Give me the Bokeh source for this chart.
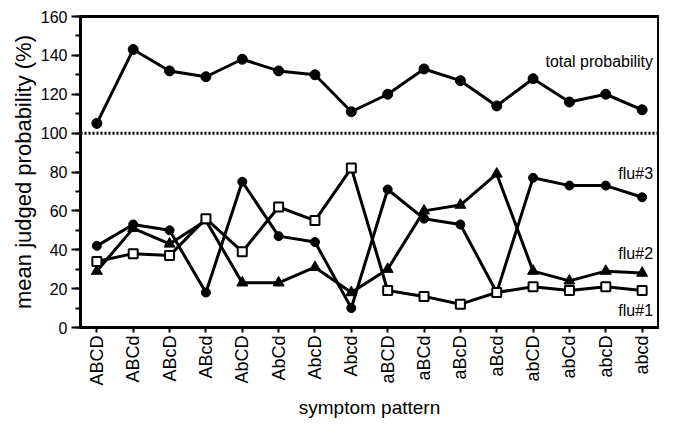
import math
from bokeh.plotting import figure
from bokeh.models import Range1d, FixedTicker, SingleIntervalTicker, Span, Label, ColumnDataSource
from bokeh.embed import file_html
from bokeh.resources import INLINE

patterns = ["ABCD", "ABCd", "ABcD", "ABcd", "AbCD", "AbCd", "AbcD", "Abcd",
            "aBCD", "aBCd", "aBcD", "aBcd", "abCD", "abCd", "abcD", "abcd"]
total_prob = [105, 143, 132, 129, 138, 132, 130, 111, 120, 133, 127, 114, 128, 116, 120, 112]
flu1 = [34, 38, 37, 56, 39, 62, 55, 82, 19, 16, 12, 18, 21, 19, 21, 19]
flu2 = [29, 51, 43, 55, 23, 23, 31, 18, 30, 60, 63, 79, 29, 24, 29, 28]
flu3 = [42, 53, 50, 18, 75, 47, 44, 10, 71, 56, 53, 18, 77, 73, 73, 67]
reference_level = 100

FONT = "Liberation Sans"

idx = list(range(len(patterns)))
src = ColumnDataSource(dict(x=idx, total=total_prob, f1=flu1, f2=flu2, f3=flu3))

p = figure(width=659, height=420, output_backend="svg", toolbar_location=None,
           x_range=Range1d(-0.45, 15.45), y_range=Range1d(0, 160),
           min_border_left=80, min_border_right=1, min_border_top=16, min_border_bottom=90)

p.xgrid.visible = False
p.ygrid.visible = False
p.outline_line_color = "black"
p.outline_line_width = 3
p.background_fill_color = "white"
p.border_fill_color = "white"

# y axis
p.yaxis.ticker = SingleIntervalTicker(interval=20, num_minor_ticks=2)
p.yaxis.axis_line_width = 3
p.yaxis.major_tick_out = 9
p.yaxis.major_tick_in = 0
p.yaxis.minor_tick_out = 5
p.yaxis.minor_tick_in = 0
p.yaxis.major_tick_line_width = 2
p.yaxis.minor_tick_line_width = 2
p.yaxis.major_label_text_font = FONT
p.yaxis.major_label_text_font_size = "16px"
p.yaxis.major_label_text_color = "black"
p.yaxis.major_label_standoff = 4
p.yaxis.axis_label = "mean judged probability (%)"
p.yaxis.axis_label_text_font = FONT
p.yaxis.axis_label_text_font_size = "22px"
p.yaxis.axis_label_text_font_style = "normal"
p.yaxis.axis_label_text_color = "black"
p.yaxis.axis_label_standoff = 2

# x axis
p.xaxis.ticker = FixedTicker(ticks=idx)
p.xaxis.major_label_overrides = {i: lab for i, lab in enumerate(patterns)}
p.xaxis.major_label_orientation = math.pi / 2
p.xaxis.axis_line_width = 3
p.xaxis.major_tick_out = 5
p.xaxis.major_tick_in = 0
p.xaxis.major_tick_line_width = 2
p.xaxis.minor_tick_out = 0
p.xaxis.minor_tick_in = 0
p.xaxis.major_label_text_font = FONT
p.xaxis.major_label_text_font_size = "18px"
p.xaxis.major_label_text_color = "black"
p.xaxis.major_label_standoff = 3
p.xaxis.axis_label = "symptom pattern"
p.xaxis.axis_label_text_font = FONT
p.xaxis.axis_label_text_font_size = "19px"
p.xaxis.axis_label_text_font_style = "normal"
p.xaxis.axis_label_text_color = "black"
p.xaxis.axis_label_standoff = 8

# reference dotted line
p.add_layout(Span(location=reference_level, dimension="width", line_color="black",
                  line_width=3, line_dash="2 2"))

# lines
for col in ["total", "f1", "f2", "f3"]:
    p.line("x", col, source=src, line_color="black", line_width=3)

# markers
p.scatter("x", "total", source=src, marker="circle", size=10, fill_color="black", line_color="black")
p.scatter("x", "f3", source=src, marker="circle", size=9, fill_color="black", line_color="black")
p.scatter("x", "f2", source=src, marker="triangle", size=11, fill_color="black", line_color="black")
p.scatter("x", "f1", source=src, marker="square", size=9, fill_color="white", line_color="black", line_width=2)

# series labels
def lab(text, y):
    p.add_layout(Label(x=15.3, y=y, text=text, text_align="right", text_baseline="middle",
                       text_font=FONT, text_font_size="16px", text_color="black"))

lab("total probability", 137)
lab("flu#3", 79)
lab("flu#2", 38)
lab("flu#1", 9)

open("out.html", "w").write(file_html(p, INLINE))
